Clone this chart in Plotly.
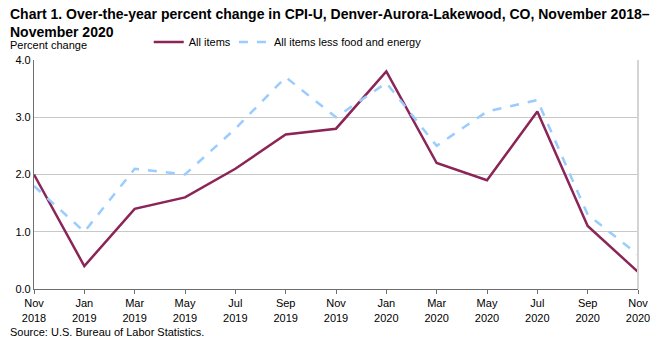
import plotly.graph_objects as go

months = ["Nov<br>2018", "Jan<br>2019", "Mar<br>2019", "May<br>2019", "Jul<br>2019", "Sep<br>2019",
          "Nov<br>2019", "Jan<br>2020", "Mar<br>2020", "May<br>2020", "Jul<br>2020", "Sep<br>2020",
          "Nov<br>2020"]
all_items = [2.0, 0.4, 1.4, 1.6, 2.1, 2.7, 2.8, 3.8, 2.2, 1.9, 3.1, 1.1, 0.3]
core = [1.8, 1.0, 2.1, 2.0, 2.8, 3.7, 3.0, 3.6, 2.5, 3.1, 3.3, 1.3, 0.6]
y_ticks = [0, 1, 2, 3, 4]
y_labels = ["0.0", "1.0", "2.0", "3.0", "4.0"]

FONT = "Liberation Sans, Arial, sans-serif"
xs = list(range(len(months)))

fig = go.Figure()
fig.add_trace(go.Scatter(x=xs, y=all_items, mode="lines", name="All items",
                         line=dict(color="#8B2457", width=2.5), legend="legend"))
fig.add_trace(go.Scatter(x=xs, y=core, mode="lines", name="All items less food and energy",
                         line=dict(color="#99CCFF", width=2.5, dash="dash"), legend="legend2"))

leg_common = dict(orientation="h", y=1.015, yanchor="bottom", bgcolor="rgba(0,0,0,0)",
                  font=dict(size=11), itemwidth=30)

fig.update_layout(
    width=662, height=344,
    margin=dict(l=34, r=24, t=60, b=55),
    paper_bgcolor="white", plot_bgcolor="white",
    font=dict(family=FONT, size=11, color="#000000"),
    showlegend=True,
    legend=dict(x=0.19, xanchor="left", **leg_common),
    legend2=dict(x=0.331, xanchor="left", **leg_common),
    xaxis=dict(range=[0, 12], tickmode="array", tickvals=xs, ticktext=months,
               showgrid=False, showline=True, linecolor="#6e6e6e", linewidth=1.2,
               ticks="outside", ticklen=4, tickcolor="#6e6e6e", zeroline=False,
               tickfont=dict(size=11), mirror=False),
    yaxis=dict(range=[0, 4], tickmode="array", tickvals=y_ticks, ticktext=y_labels,
               showgrid=True, gridcolor="#c8c8c8", gridwidth=1,
               showline=True, linecolor="#6e6e6e", linewidth=1.2, ticks="",
               zeroline=False, tickfont=dict(size=11)),
    shapes=[dict(type="line", xref="paper", yref="paper", x0=1, x1=1, y0=0, y1=1,
                 line=dict(color="#d4d4d4", width=2))],
    annotations=[
        dict(text="<b>Chart 1. Over-the-year percent change in CPI-U, Denver-Aurora-Lakewood, CO, November 2018–<br>November 2020</b>",
             xref="paper", yref="paper", x=-0.043, y=1.245, xanchor="left", yanchor="top",
             align="left", showarrow=False, font=dict(size=14)),
        dict(text="Percent change", xref="paper", yref="paper", x=-0.043, y=1.03,
             xanchor="left", yanchor="bottom", showarrow=False, font=dict(size=11)),
        dict(text="Source: U.S. Bureau of Labor Statistics.", xref="paper", yref="paper",
             x=-0.043, y=-0.155, xanchor="left", yanchor="top", showarrow=False,
             font=dict(size=11)),
    ],
)

fig.write_html("out.html")
